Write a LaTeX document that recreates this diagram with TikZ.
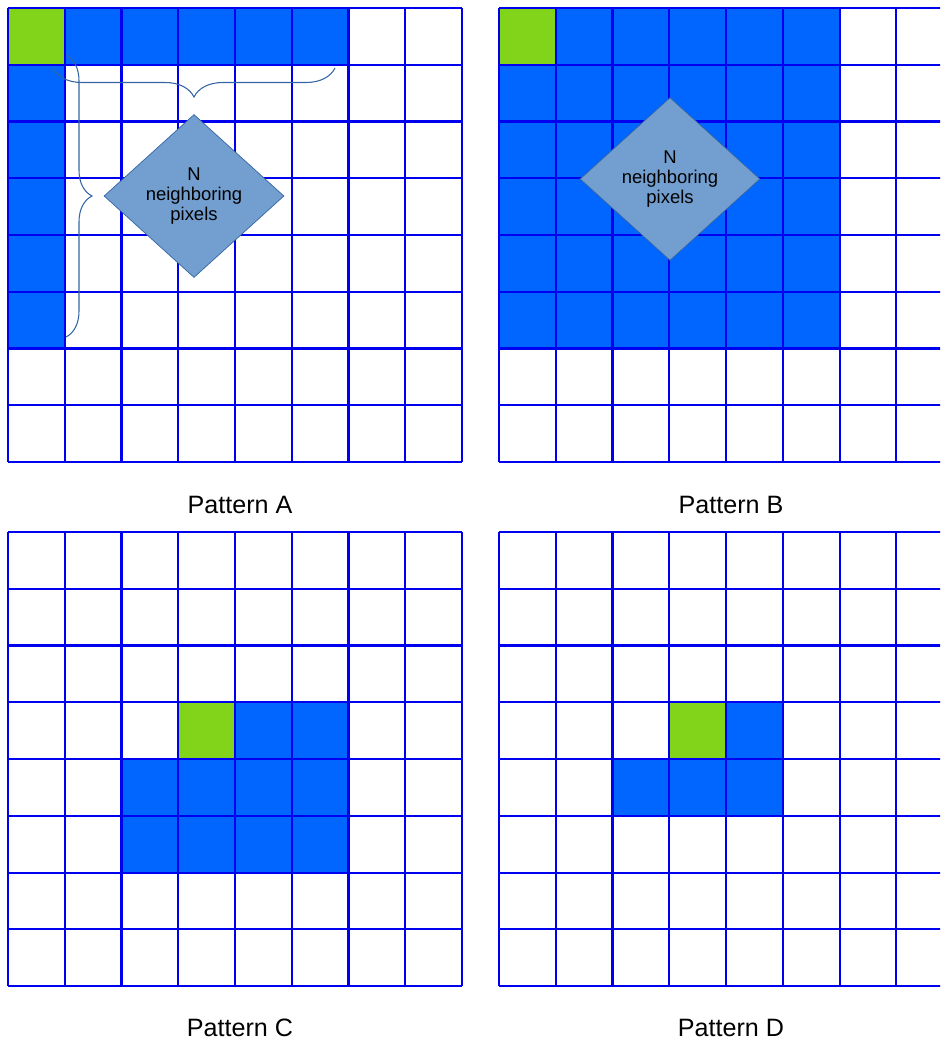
\documentclass[tikz,border=0pt]{standalone}
\usepackage{fontspec}
\setmainfont{Liberation Sans}
\usetikzlibrary{shapes.geometric,decorations.pathreplacing,calc}

\definecolor{gridblue}{HTML}{0000F0}
\definecolor{cellblue}{HTML}{0066FF}
\definecolor{cellgreen}{HTML}{81D41A}
\definecolor{diafill}{HTML}{729FCF}
\definecolor{diaedge}{HTML}{3465A4}

\begin{document}
\begin{tikzpicture}[
 x=0.02cm,y=-0.02cm,
 grd/.style={draw=gridblue,line width=1.15pt},
 blu/.style={fill=cellblue},
 grn/.style={fill=cellgreen},
 dia/.style={diamond,aspect=1.1,draw=diaedge,fill=diafill,inner sep=0pt,
  minimum width=3.6cm,minimum height=3.26cm,align=center,
  font=\fontsize{10.5}{11.6}\selectfont},
 brc/.style={draw=diaedge,line width=0.6pt,decorate},
 lbl/.style={font=\fontsize{14.3}{17}\selectfont}]
\useasboundingbox (0,0) rectangle (940,1041);
\def\cs{56.75}
% filled cells
\foreach \c in {1,...,5} \fill[blu] (8+\c*\cs,8) rectangle ++(\cs,\cs);
\foreach \r in {1,...,5} \fill[blu] (8,8+\r*\cs) rectangle ++(\cs,\cs);
\fill[grn] (8,8) rectangle ++(\cs,\cs);
\fill[blu] (499,8) rectangle ++(6*\cs,6*\cs);
\fill[grn] (499,8) rectangle ++(\cs,\cs);
\fill[blu] (8+4*\cs,532+3*\cs) rectangle ++(2*\cs,\cs);
\fill[blu] (8+2*\cs,532+4*\cs) rectangle ++(4*\cs,2*\cs);
\fill[grn] (8+3*\cs,532+3*\cs) rectangle ++(\cs,\cs);
\fill[blu] (499+4*\cs,532+3*\cs) rectangle ++(\cs,\cs);
\fill[blu] (499+2*\cs,532+4*\cs) rectangle ++(3*\cs,\cs);
\fill[grn] (499+3*\cs,532+3*\cs) rectangle ++(\cs,\cs);
% grids
\begin{scope}
 \clip (0,0) rectangle (940,1041);
 \foreach \ox/\oy in {8/8,499/8,8/532,499/532}
  \foreach \i in {0,...,8} {
   \draw[grd] (\ox+\i*\cs,\oy) -- ++(0,8*\cs);
   \draw[grd] (\ox,\oy+\i*\cs) -- ++(8*\cs,0);
  }
\end{scope}
% braces and diamonds
\coordinate (hbR) at (335,68);
\coordinate (hbL) at (53,68);
\coordinate (vbT) at (66,55);
\coordinate (vbB) at (66,337);
\draw[brc,decoration={brace,amplitude=0.58cm}] (hbR) -- (hbL);
\draw[brc,decoration={brace,amplitude=0.52cm}] (vbT) -- (vbB);
\node[dia] (diaA) at (194,196) {N\\neighboring\\pixels};
\node[dia] (diaB) at (670,179) {N\\neighboring\\pixels};
% labels
\node[lbl] (patA) at (240,505) {Pattern A};
\node[lbl] (patB) at (731,505) {Pattern B};
\node[lbl] (patC) at (240,1028) {Pattern C};
\node[lbl] (patD) at (731,1028) {Pattern D};
\end{tikzpicture}
\end{document}
